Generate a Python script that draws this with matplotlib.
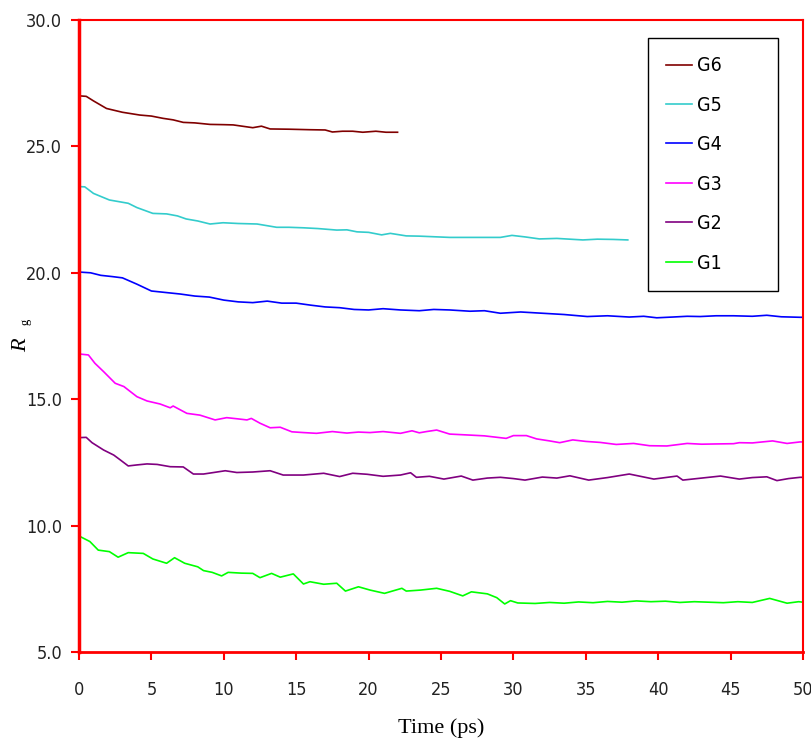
import matplotlib
matplotlib.use("Agg")
import matplotlib.pyplot as plt

# Rg traces (time in ps, Rg)
t_g6 = [0, 0.5, 1.0, 1.9, 3.0, 4.2, 5.0, 5.8, 6.5, 7.2, 8.0, 9.05, 10.0, 10.65, 12.0, 12.6, 13.2, 14.5,
        15.95, 17.0, 17.5, 18.2, 18.9, 19.6, 20.5, 21.2, 22.0]
g6 = [27.0, 26.98, 26.8, 26.5, 26.35, 26.24, 26.2, 26.11, 26.05, 25.95, 25.93, 25.87, 25.86, 25.85, 25.74, 25.8,
      25.69, 25.68, 25.66, 25.65, 25.57, 25.6, 25.6, 25.56, 25.6, 25.56, 25.56]

t_g5 = [0, 0.4, 1.0, 2.1, 2.8, 3.4, 4.0, 5.1, 6.05, 6.8, 7.4, 8.2, 9.05, 9.95, 11.0, 12.3, 13.65, 14.5,
        15.5, 16.5, 17.8, 18.5, 19.2, 20.0, 20.9, 21.5, 22.6, 23.5, 25.6, 27.5, 29.1, 29.9, 30.8, 31.8, 33.0,
        34.8, 35.8, 36.9, 37.9]
g5 = [23.41, 23.4, 23.14, 22.88, 22.81, 22.75, 22.58, 22.35, 22.33, 22.25, 22.13, 22.05, 21.93, 21.98, 21.95,
      21.93, 21.8, 21.8, 21.78, 21.75, 21.69, 21.7, 21.62, 21.6, 21.5, 21.56, 21.46, 21.45, 21.4, 21.4, 21.4,
      21.48, 21.42, 21.34, 21.36, 21.3, 21.33, 21.32, 21.3]

t_g4 = [0, 0.8, 1.5, 2.3, 3.0, 4.0, 5.0, 6.0, 7.0, 8.0, 9.0, 10.0, 11.0, 12.0, 13.0, 14.0, 15.0, 16.0, 17.0,
        18.0, 19.0, 20.0, 21.0, 22.2, 23.5, 24.5, 25.6, 27.0, 28.0, 29.1, 30.5, 32.0, 33.5, 35.1, 36.5, 38.0,
        39.0, 39.9, 41.0, 42.0, 42.9, 44.0, 45.2, 46.5, 47.5, 48.5, 49.8, 50.0]
g4 = [20.03, 20.0, 19.9, 19.85, 19.8, 19.55, 19.28, 19.22, 19.16, 19.08, 19.04, 18.92, 18.85, 18.82, 18.88,
      18.8, 18.8, 18.72, 18.65, 18.62, 18.55, 18.53, 18.58, 18.53, 18.5, 18.55, 18.53, 18.48, 18.5, 18.4,
      18.45, 18.4, 18.35, 18.27, 18.3, 18.25, 18.28, 18.22, 18.25, 18.28, 18.27, 18.3, 18.3, 18.28, 18.32,
      18.26, 18.24, 18.24]

t_g3 = [0, 0.65, 1.1, 1.7, 2.5, 3.1, 4.0, 4.7, 5.6, 6.3, 6.5, 7.45, 8.35, 9.4, 10.2, 11.0, 11.6, 11.9, 12.5,
        13.2, 13.9, 14.7, 15.5, 16.4, 17.5, 18.5, 19.3, 20.1, 21.0, 22.2, 23.0, 23.5, 24.0, 24.7, 25.6,
        27.0, 28.0, 29.5, 30.0, 30.9, 31.6, 32.5, 33.2, 34.1, 35.0, 36.0, 37.1, 38.3, 39.4, 40.6, 41.3, 42.0,
        43.0, 44.0, 45.2, 45.6, 46.5, 47.9, 48.9, 49.8, 50.0]
g3 = [16.79, 16.75, 16.42, 16.09, 15.63, 15.5, 15.1, 14.93, 14.81, 14.66, 14.73, 14.44, 14.37, 14.18, 14.27,
      14.22, 14.18, 14.24, 14.05, 13.87, 13.89, 13.71, 13.68, 13.65, 13.72, 13.66, 13.7, 13.68, 13.72, 13.65,
      13.75, 13.67, 13.72, 13.78, 13.62, 13.58, 13.55, 13.45, 13.56, 13.56, 13.43, 13.35, 13.28, 13.39,
      13.33, 13.29, 13.21, 13.25, 13.16, 13.15, 13.2, 13.25, 13.22, 13.23, 13.24, 13.28, 13.27, 13.35,
      13.25, 13.31, 13.31]

t_g2 = [0, 0.5, 0.9, 1.7, 2.4, 2.8, 3.4, 4.0, 4.7, 5.4, 6.3, 7.2, 7.9, 8.6, 9.3, 10.1, 10.9, 12.0, 13.2,
        14.1, 15.5, 16.9, 18.0, 18.9, 19.9, 21.0, 22.2, 22.9, 23.3, 24.2, 25.2, 26.4, 27.2, 28.2, 29.1,
        30.0, 30.8, 32.0, 33.0, 33.9, 35.2, 36.5, 38.0, 39.7, 40.5, 41.3, 41.7, 43.0, 44.3, 45.6, 46.5,
        47.5, 48.2, 49.0, 49.8, 50.0]
g2 = [13.48, 13.49, 13.28, 12.99, 12.79, 12.62, 12.36, 12.4, 12.44, 12.42, 12.33, 12.32, 12.04, 12.04,
      12.1, 12.17, 12.1, 12.12, 12.17, 12.0, 12.0, 12.07, 11.94, 12.07, 12.03, 11.95, 12.0, 12.09, 11.91,
      11.95, 11.84, 11.96, 11.8, 11.88, 11.91, 11.86, 11.8, 11.92, 11.88, 11.97, 11.8, 11.9, 12.04, 11.84,
      11.9, 11.96, 11.8, 11.88, 11.96, 11.84, 11.9, 11.93, 11.78, 11.86, 11.91, 11.91]

t_g1 = [0, 0.75, 1.33, 2.1, 2.7, 3.4, 4.44, 5.1, 6.05, 6.6, 7.3, 8.2, 8.6, 9.2, 9.85, 10.3, 11.2, 12.0, 12.5,
        13.3, 13.9, 14.8, 15.5, 15.95, 16.9, 17.8, 18.4, 19.3, 20.1, 21.1, 22.3, 22.6, 23.6, 24.7, 25.6,
        26.5, 27.1, 28.2, 28.85, 29.4, 29.8, 30.3, 31.5, 32.5, 33.5, 34.5, 35.5, 36.5, 37.5, 38.5, 39.5,
        40.5, 41.5, 42.5, 43.5, 44.5, 45.5, 46.5, 47.7, 48.9, 49.7, 50.0]
g1 = [9.59, 9.37, 9.03, 8.97, 8.75, 8.93, 8.9, 8.68, 8.51, 8.73, 8.51, 8.37, 8.22, 8.15, 8.01, 8.15, 8.12,
      8.11, 7.94, 8.11, 7.96, 8.09, 7.69, 7.78, 7.68, 7.72, 7.41, 7.58, 7.45, 7.32, 7.52, 7.41, 7.45, 7.52,
      7.4, 7.22, 7.38, 7.3, 7.15, 6.9, 7.03, 6.94, 6.92, 6.96, 6.93, 6.98, 6.95, 7.0, 6.97, 7.02, 6.99,
      7.01, 6.96, 6.99, 6.97, 6.95, 6.99, 6.96, 7.12, 6.93, 6.99, 6.97]

series = [("G6", t_g6, g6, "#800000"),
          ("G5", t_g5, g5, "#33CCCC"),
          ("G4", t_g4, g4, "#0000FF"),
          ("G3", t_g3, g3, "#FF00FF"),
          ("G2", t_g2, g2, "#800080"),
          ("G1", t_g1, g1, "#00FF00")]

plt.rcParams['font.family'] = ['DejaVu Sans', 'Liberation Sans']
plt.rcParams['font.stretch'] = 'condensed'

fig = plt.figure(figsize=(8.12, 7.46), dpi=100)
ax = fig.add_axes([79/812, 94/746, 724/812, 632/746])

for name, t, y, c in series:
    ax.plot(t, y, color=c, lw=1.2, label=name)

ax.set_xlim(0, 50)
ax.set_ylim(5, 30)
ax.set_xticks(range(0, 51, 5))
ax.set_yticks([5, 10, 15, 20, 25, 30])
ax.set_yticklabels(["5.0", "10.0", "15.0", "20.0", "25.0", "30.0"])

for side, w in [("left", 2.5), ("bottom", 2.0), ("top", 1.5), ("right", 1.5)]:
    ax.spines[side].set_color("#FF0000")
    ax.spines[side].set_linewidth(w)
ax.tick_params(axis="both", direction="out", color="#FF0000", width=1.5, length=6,
               labelsize=13, labelcolor="#222222")
ax.tick_params(axis="x", pad=15)
ax.tick_params(axis="y", pad=6)

ax.set_xlabel("Time (ps)", family=["Liberation Serif"], fontsize=16, labelpad=14)
fig.text(0.027, 1 - 345/746, "R", family=["Liberation Serif"], style="italic", fontsize=16,
         rotation=90, ha="center", va="center")
fig.text(0.032, 1 - 322/746, "g", family=["Liberation Serif"], fontsize=9,
         rotation=90, ha="center", va="center")

leg = ax.legend(loc="upper left", bbox_to_anchor=(648/812, 1 - 281/746, 130/812, 243/746),
                bbox_transform=fig.transFigure, mode="expand",
                fontsize=14, frameon=True, fancybox=False, edgecolor="black", framealpha=1,
                handlelength=1.3, handletextpad=0.25, labelspacing=1.05, borderpad=0.95,
                borderaxespad=0)
leg.get_frame().set_linewidth(1.0)

fig.savefig("out.png", dpi=100)
